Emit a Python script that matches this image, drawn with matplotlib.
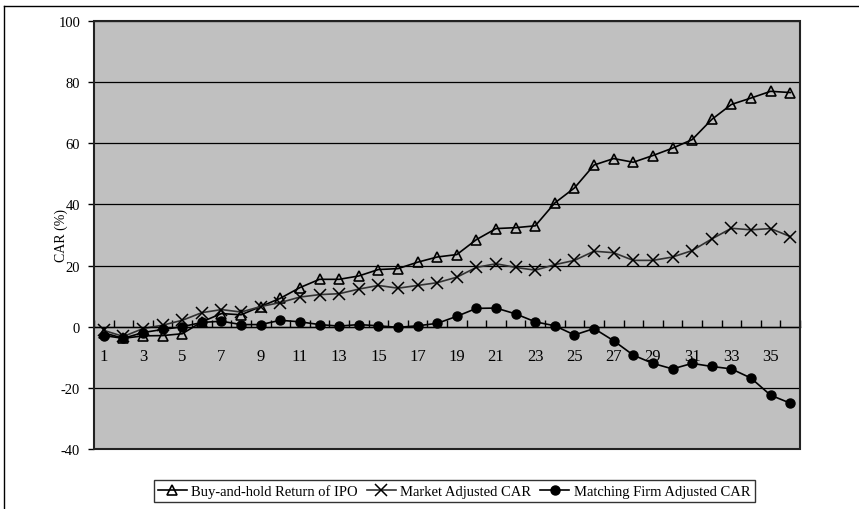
import numpy as np
import matplotlib.pyplot as plt
from matplotlib.lines import Line2D
from matplotlib.patches import Rectangle

plt.rcParams['font.family'] = ['Liberation Serif', 'DejaVu Serif']
plt.rcParams['axes.unicode_minus'] = False

months = np.arange(1, 37)
bhr_ipo = [-2.0, -3.8, -3.0, -2.9, -2.3, 1.6, 4.3, 3.9, 6.6, 9.3, 12.8, 15.5,
           15.5, 16.6, 18.7, 19.0, 21.1, 22.8, 23.6, 28.5, 32.1, 32.4, 33.0, 40.5,
           45.4, 52.9, 55.0, 53.8, 56.0, 58.4, 61.2, 67.8, 72.7, 74.8, 77.0, 76.6]
market_car = [-1.2, -3.2, -0.6, 0.5, 2.1, 4.6, 5.6, 4.8, 6.6, 7.9, 9.7, 10.5,
              10.8, 12.3, 13.5, 12.6, 13.5, 14.4, 16.2, 19.4, 20.6, 19.4, 18.5, 20.3,
              21.7, 24.7, 24.2, 21.7, 21.7, 22.8, 24.9, 28.7, 32.2, 31.7, 32.1, 29.5]
matching_car = [-2.9, -3.8, -1.9, -0.9, 0.0, 1.4, 1.8, 0.7, 0.7, 2.1, 1.6, 0.7,
                0.2, 0.7, 0.3, -0.2, 0.3, 1.1, 3.4, 6.0, 6.1, 4.2, 1.6, 0.3,
                -2.7, -0.6, -4.6, -9.3, -12.0, -13.8, -12.0, -13.0, -13.8, -16.8, -22.4, -25.0]
yticks = np.arange(-40, 101, 20)

fig = plt.figure(figsize=(8.59, 5.10), dpi=100)
ax = fig.add_axes([94/859, 1-450/510, (800-94)/859, (450-22)/510])
ax.set_facecolor('#c0c0c0')

ax.plot(months, bhr_ipo, color='black', lw=1.2, marker='^', ms=7,
        mfc='none', mec='black', mew=1.2, label='Buy-and-hold Return of IPO')
ax.plot(months, market_car, color='#333333', lw=1.2, marker='x', ms=8,
        mec='black', mew=1.1, label='Market Adjusted CAR')
ax.plot(months, matching_car, color='black', lw=1.2, marker='o', ms=6.5,
        mfc='black', mec='black', label='Matching Firm Adjusted CAR')

ax.set_xlim(0.5, 36.5)
ax.set_ylim(-40, 100)
ax.set_yticks(yticks)
for v in yticks:
    ax.axhline(v, color='black', lw=0.9, zorder=0.5)

# category axis crosses at zero, ticks between categories
ax.spines['bottom'].set_position(('data', 0))
ax.spines['bottom'].set_linewidth(1.0)
for s in ['top', 'right', 'left']:
    ax.spines[s].set_visible(False)
ax.add_patch(Rectangle((0, 0), 1, 1, transform=ax.transAxes, fill=False,
                       ec='#222222', lw=1.5, zorder=5, clip_on=False))

ax.set_xticks(np.arange(1, 37, 2))
ax.set_xticks(np.arange(0.5, 37, 1), minor=True)
ax.tick_params(axis='x', which='major', length=0, pad=15, labelsize=12)
ax.tick_params(axis='x', which='minor', direction='in', length=5, width=1)
ax.tick_params(axis='y', length=4, width=1, pad=6, labelsize=10.5)

ax.set_ylabel('CAR (%)', fontsize=10)
ax.yaxis.set_label_coords((68-94)/706, 0.5)

leg = fig.legend(loc='center', bbox_to_anchor=(454/859, 1-492/510), ncol=3,
                 fontsize=10.5, frameon=True, fancybox=False, edgecolor='black',
                 handlelength=2.0, columnspacing=0.6, handletextpad=0.3,
                 borderpad=0.3)
leg.get_frame().set_linewidth(1.0)

# outer chart border (only left and top edges fall inside the picture)
fig.add_artist(Line2D([4/859, 4/859], [0, 1-7/510], color='black', lw=1.0))
fig.add_artist(Line2D([4/859, 1], [1-7/510, 1-7/510], color='black', lw=1.0))

fig.savefig('out.png', dpi=100)
